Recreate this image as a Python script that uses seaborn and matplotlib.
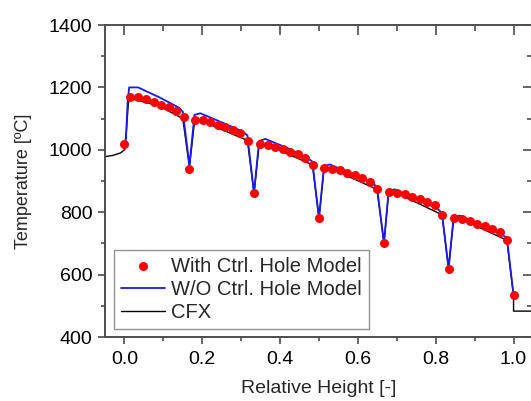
import matplotlib
matplotlib.use("Agg")
import matplotlib.pyplot as plt
from matplotlib.ticker import MultipleLocator
import seaborn as sns
import pandas as pd

# With Ctrl. Hole Model (red dots)
with_x = [0.0,
          0.015, 0.035, 0.055, 0.075, 0.094, 0.114, 0.133, 0.152, 0.167,
          0.181, 0.201, 0.221, 0.240, 0.259, 0.278, 0.298, 0.318, 0.333,
          0.348, 0.368, 0.388, 0.407, 0.426, 0.445, 0.465, 0.484, 0.500,
          0.514, 0.534, 0.554, 0.573, 0.592, 0.611, 0.631, 0.650, 0.667,
          0.681, 0.701, 0.721, 0.740, 0.759, 0.778, 0.798, 0.817, 0.833,
          0.848, 0.868, 0.888, 0.907, 0.926, 0.945, 0.965, 0.984, 1.000]
with_T = [1020,
          1170, 1170, 1163, 1154, 1145, 1136, 1125, 1105, 940,
          1096, 1095, 1089, 1081, 1072, 1064, 1054, 1028, 860,
          1018, 1016, 1010, 1002, 994, 986, 975, 952, 780,
          942, 940, 934, 926, 918, 910, 898, 873, 700,
          866, 863, 857, 850, 842, 833, 822, 792, 618,
          780, 778, 771, 763, 755, 747, 736, 710, 535]

# W/O Ctrl. Hole Model (blue line)
wo_x = [0.0, 0.004, 0.008, 0.012, 0.035, 0.090, 0.140, 0.150, 0.167,
        0.180, 0.195, 0.250, 0.305, 0.316, 0.333,
        0.346, 0.362, 0.420, 0.472, 0.483, 0.500,
        0.513, 0.528, 0.585, 0.638, 0.649, 0.667,
        0.679, 0.695, 0.752, 0.805, 0.816, 0.833,
        0.846, 0.862, 0.920, 0.972, 0.983, 1.000]
wo_T = [1000, 1040, 1150, 1200, 1200, 1168, 1135, 1122, 950,
        1112, 1117, 1088, 1058, 1046, 862,
        1028, 1035, 1005, 973, 962, 782,
        948, 953, 923, 893, 881, 702,
        869, 873, 843, 810, 798, 620,
        785, 789, 759, 727, 716, 535]

# CFX (black line)
cfx_x = [-0.05, -0.03, -0.01, 0.0, 0.005, 0.010, 0.015, 0.090, 0.150, 0.167,
         0.180, 0.195, 0.316, 0.333,
         0.346, 0.362, 0.483, 0.500,
         0.513, 0.528, 0.649, 0.667,
         0.679, 0.695, 0.816, 0.833,
         0.846, 0.862, 0.983, 1.000, 1.000, 1.060]
cfx_T = [978, 982, 990, 1000, 1060, 1150, 1165, 1140, 1100, 945,
         1090, 1094, 1030, 860,
         1015, 1018, 952, 780,
         940, 942, 873, 700,
         864, 864, 792, 618,
         778, 780, 710, 530, 483, 483]

df_with = pd.DataFrame({"x": with_x, "T": with_T})
df_wo = pd.DataFrame({"x": wo_x, "T": wo_T})
df_cfx = pd.DataFrame({"x": cfx_x, "T": cfx_T})

sns.set_style("ticks")
plt.rcParams["font.family"] = ["Liberation Sans", "DejaVu Sans"]

fig = plt.figure(figsize=(5.31, 4.01), dpi=100)
ax = fig.add_axes([105 / 531, 1 - 337 / 401, 428 / 531, 312 / 401])

sns.lineplot(data=df_cfx, x="x", y="T", ax=ax, color="black", lw=1.0,
             sort=False, estimator=None, label="CFX", zorder=2)
sns.lineplot(data=df_wo, x="x", y="T", ax=ax, color="#1a1ae6", lw=1.3,
             sort=False, estimator=None, label="W/O Ctrl. Hole Model", zorder=3)
sns.scatterplot(data=df_with, x="x", y="T", ax=ax, color="#ff0000", s=42,
                linewidth=0, label="With Ctrl. Hole Model", zorder=4)

ax.set_xlim(-0.05, 1.05)
ax.set_ylim(400, 1400)
ax.xaxis.set_major_locator(MultipleLocator(0.2))
ax.xaxis.set_minor_locator(MultipleLocator(0.1))
ax.yaxis.set_major_locator(MultipleLocator(200))
ax.yaxis.set_minor_locator(MultipleLocator(100))
ax.xaxis.set_major_formatter(matplotlib.ticker.FormatStrFormatter("%.1f"))

spine_c = "#4d4d4d"
for s in ax.spines.values():
    s.set_visible(True)
    s.set_color(spine_c)
    s.set_linewidth(1.4)

ax.tick_params(which="both", direction="out", colors=spine_c,
               labelcolor="black", labelsize=14, width=1.2)
ax.tick_params(which="major", length=5, pad=4)
ax.tick_params(which="minor", length=3)
ax.tick_params(axis="x", which="major", pad=5)

top = ax.secondary_xaxis("top")
top.xaxis.set_major_locator(MultipleLocator(0.2))
top.xaxis.set_minor_locator(MultipleLocator(0.1))
top.tick_params(which="both", direction="in", labeltop=False, colors=spine_c, width=1.2)
top.tick_params(which="major", length=7)
top.tick_params(which="minor", length=4)
top.spines["top"].set_visible(False)

right = ax.secondary_yaxis("right")
right.yaxis.set_major_locator(MultipleLocator(200))
right.yaxis.set_minor_locator(MultipleLocator(100))
right.tick_params(which="both", direction="in", labelright=False, colors=spine_c, width=1.2)
right.tick_params(which="major", length=7)
right.tick_params(which="minor", length=4)
right.spines["right"].set_visible(False)

ax.set_xlabel("Relative Height [-]", fontsize=14, labelpad=9)
ax.set_ylabel("Temperature [ºC]", fontsize=13, labelpad=12)

h, l = ax.get_legend_handles_labels()
order = [2, 1, 0]
leg = ax.legend([h[i] for i in order], [l[i] for i in order],
                loc="lower left", bbox_to_anchor=(0.021, 0.026),
                fontsize=14.5, frameon=True, fancybox=False,
                borderaxespad=0, handlelength=2.2, handletextpad=0.3,
                labelspacing=0.2, borderpad=0.35)
leg.get_frame().set_edgecolor("#777777")
leg.get_frame().set_linewidth(1.0)

fig.savefig("out.png", dpi=100)
